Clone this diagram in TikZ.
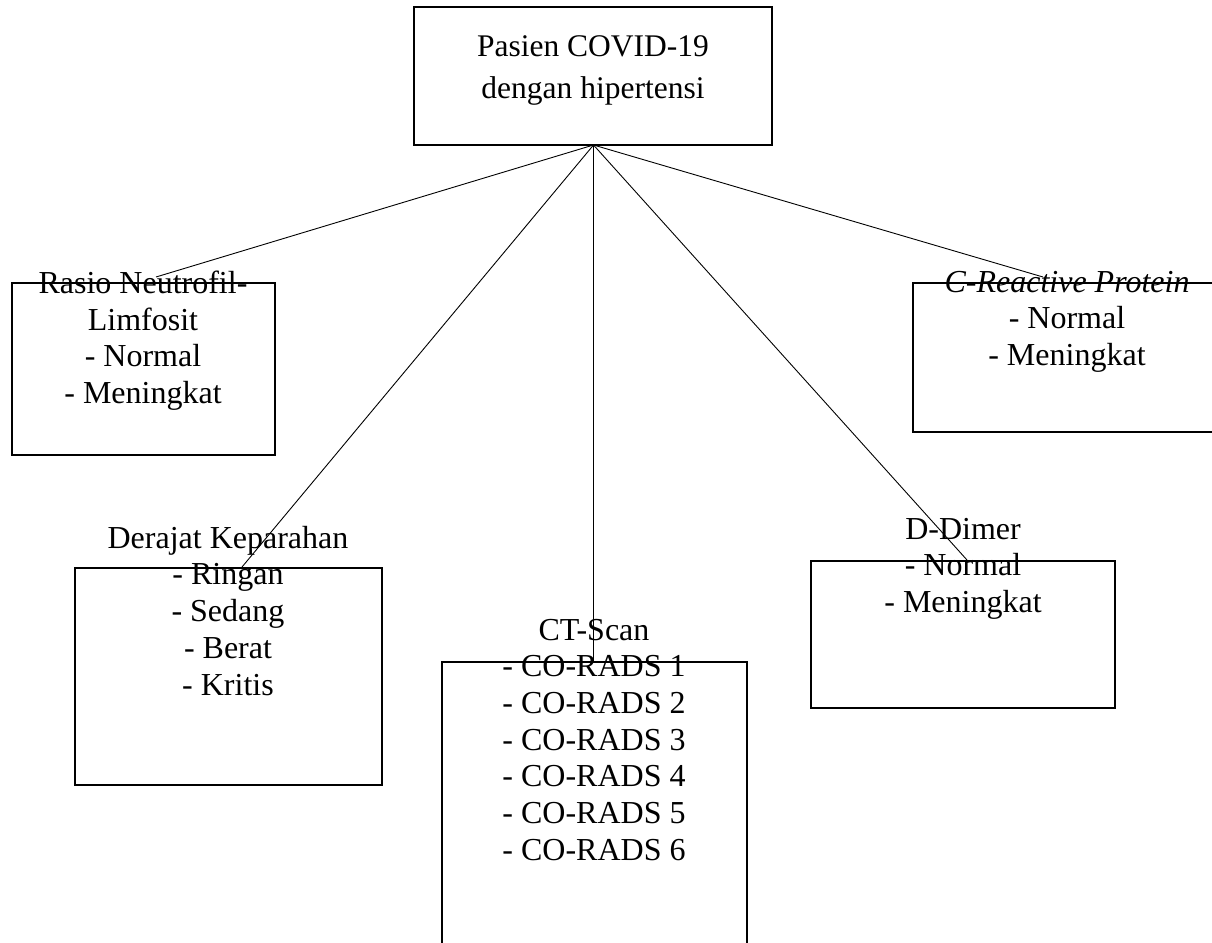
\documentclass[tikz,border=0pt]{standalone}
\usepackage{fontspec}
\setmainfont{Liberation Serif}
\begin{document}
\begin{tikzpicture}[x=1pt,y=-1pt,
  boxshape/.style={draw=black,line width=2pt,inner sep=0pt,outer sep=0pt,anchor=north west},
  lbl/.style={inner sep=0pt,outer sep=0pt,anchor=north,align=center,font=\fontsize{32}{36.7}\selectfont},
  toplbl/.style={inner sep=0pt,outer sep=0pt,anchor=north,align=center,font=\fontsize{31.5}{42}\selectfont},
  conn/.style={draw=black,line width=0.9pt}]
\useasboundingbox (0,0) rectangle (1212,942);
\clip (0,0) rectangle (1212,942);
% boxes
\node[boxshape,minimum width=358pt,minimum height=138pt] (top) at (414,7) {};
\node[boxshape,minimum width=263pt,minimum height=172pt] (rnl) at (12,283) {};
\node[boxshape,minimum width=320pt,minimum height=149pt] (crp) at (913,283) {};
\node[boxshape,minimum width=307pt,minimum height=217pt] (dk) at (75,568) {};
\node[boxshape,minimum width=305pt,minimum height=300pt] (ct) at (442,662) {};
\node[boxshape,minimum width=304pt,minimum height=147pt] (dd) at (811,561) {};
% connector ends
\coordinate (apex) at (593.5,145);
\coordinate (eR) at (156,277);
\coordinate (eC) at (1043,277);
\coordinate (eD) at (242,567);
\coordinate (eT) at (593.5,662);
\coordinate (eM) at (967,560);
\draw[conn] (apex) -- (eR);
\draw[conn] (apex) -- (eC);
\draw[conn] (apex) -- (eD);
\draw[conn] (apex) -- (eT);
\draw[conn] (apex) -- (eM);
% texts
\node[toplbl] (ttop) at (593,36) {Pasien COVID-19\\dengan hipertensi};
\node[lbl] (trnl) at (143,271) {Rasio Neutrofil-\\Limfosit\\- Normal\\- Meningkat};
\node[lbl] (tcrp) at (1067,271) {\textit{C-Reactive Protein}\\- Normal\\- Meningkat};
\node[lbl] (tdk) at (228,526) {Derajat Keparahan\\- Ringan\\- Sedang\\- Berat\\- Kritis};
\node[lbl] (tct) at (594,619) {CT-Scan\\- CO-RADS 1\\- CO-RADS 2\\- CO-RADS 3\\- CO-RADS 4\\- CO-RADS 5\\- CO-RADS 6};
\node[lbl] (tdd) at (963,518) {D-Dimer\\- Normal\\- Meningkat};
\end{tikzpicture}
\end{document}
